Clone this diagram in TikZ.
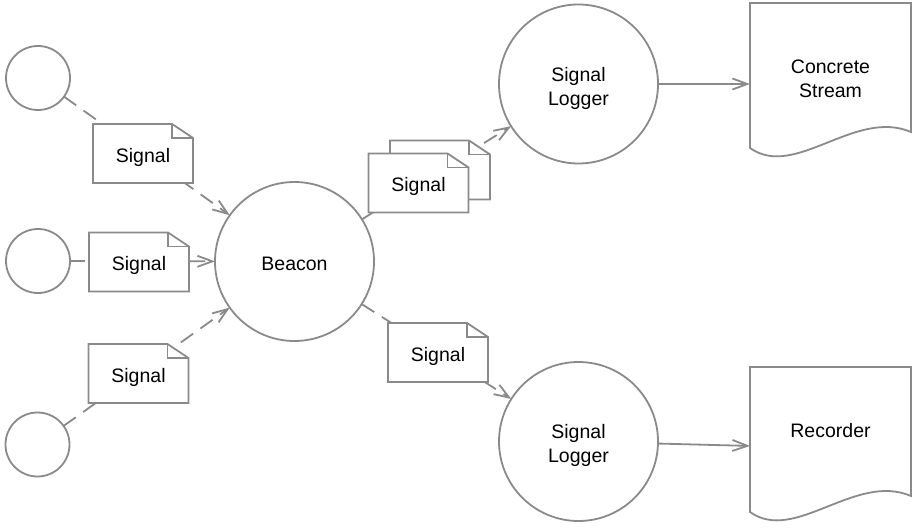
\documentclass[tikz,border=0pt]{standalone}
\usepackage{fontspec}
\setmainfont{Liberation Sans}
\usetikzlibrary{arrows.meta,calc}
\pgfdeclarelayer{bg}
\pgfdeclarelayer{notes}
\pgfsetlayers{bg,notes,main}
\definecolor{ln}{HTML}{8A8A8A}
\newcommand\shifttext[2]{\raisebox{#1}[\height][\depth]{#2}}
\begin{document}
\begin{tikzpicture}[x=1pt,y=-1pt,
  line width=1.8pt,
  every node/.style={font=\fontsize{19.5}{24}\selectfont, text=black, inner sep=0pt, outer sep=0pt},
  circ/.style={circle, draw=ln, line width=1.8pt, minimum size=#1, align=center},
  sig/.style={minimum width=100pt, minimum height=59pt},
  docbox/.style={minimum width=161pt, minimum height=162pt, align=center},
  link/.style={draw=ln, line width=1.8pt, -{Straight Barb[length=15pt,width=11pt]}},
  dlink/.style={link, dash pattern=on 15pt off 9pt},
  noteline/.style={draw=ln, line width=1.8pt},
]
\useasboundingbox (0,0) rectangle (916,532);

% circles
\node[circ=64pt] (c1) at (38,78) {};
\node[circ=64pt] (c2) at (38,261) {};
\node[circ=64pt] (c3) at (37.5,444.5) {};
\node[circ=159pt] (beacon) at (294.5,261.5) {\shifttext{-2pt}{Beacon}};
\node[circ=159pt] (log1) at (578.5,84) {\shifttext{-4.5pt}{\begin{tabular}{@{}c@{}}Signal\\Logger\end{tabular}}};
\node[circ=159pt] (log2) at (578.5,441.5) {\shifttext{-4.5pt}{\begin{tabular}{@{}c@{}}Signal\\Logger\end{tabular}}};

% documents
\node[docbox] (doc1) at (830.5,84) {\shifttext{3pt}{\begin{tabular}{@{}c@{}}Concrete\\Stream\end{tabular}}};
\node[docbox] (doc2) at (830.5,448) {\shifttext{17pt}{Recorder}};
\foreach \d in {doc1,doc2} {
  \draw[noteline] ($(\d.center)+(-80.5,64)$) -- (\d.north west) -- (\d.north east)
    -- ($(\d.center)+(80.5,48)$)
    .. controls ($(\d.center)+(24.5,24)$) and ($(\d.center)+(-35.5,96)$) .. cycle;
}

% connectors
\begin{pgfonlayer}{bg}
\draw[dlink] (c1) -- (beacon);
\draw[dlink] (c2) -- (beacon);
\draw[dlink] (c3) -- (beacon);
\draw[dlink] (beacon) -- (log1);
\draw[dlink] (beacon) -- (log2);
\end{pgfonlayer}
\draw[link] (log1) -- (doc1);
\draw[link] (log2) -- (doc2);

% signal notes
\node[sig] (n1) at (143,153.5) {\shifttext{-3.5pt}{Signal}};
\node[sig] (n2) at (139,262) {\shifttext{-3.5pt}{Signal}};
\node[sig] (n3) at (138.5,373.5) {\shifttext{-3.5pt}{Signal}};
\node[sig] (n4) at (438,352.5) {\shifttext{-3.5pt}{Signal}};
\node[sig] (n5b) at (440,170) {};
\node[sig] (n5) at (418.5,183) {\shifttext{-3.5pt}{Signal}};
\begin{pgfonlayer}{notes}
\foreach \n in {n1,n2,n3,n4,n5b,n5} {
  \filldraw[noteline, fill=white] (\n.north west) -- ([xshift=-21pt]\n.north east)
    -- ([yshift=-14pt]\n.north east) -- (\n.south east) -- (\n.south west) -- cycle;
  \draw[noteline] ([xshift=-21pt]\n.north east) |- ([yshift=-14pt]\n.north east);
}
\end{pgfonlayer}
\end{tikzpicture}
\end{document}
